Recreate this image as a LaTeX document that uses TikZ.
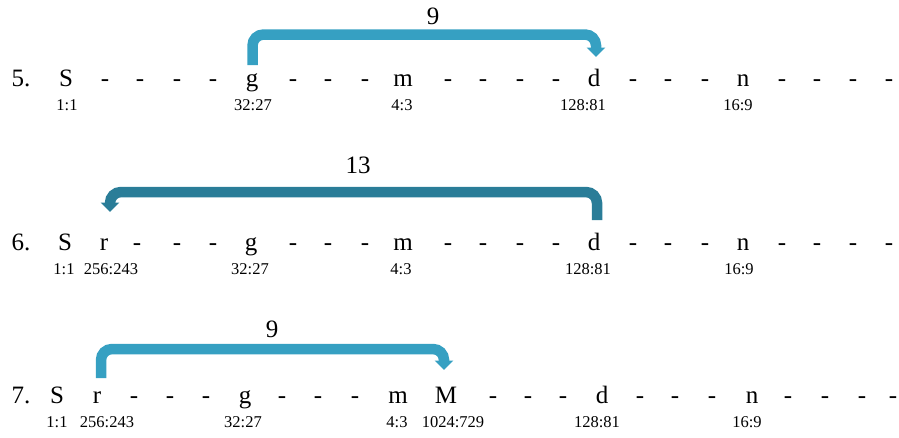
\documentclass[tikz,border=0pt]{standalone}
\usepackage{fontspec}
\setmainfont{Liberation Serif}
\usetikzlibrary{arrows.meta}
\definecolor{arrlight}{HTML}{36A0C2}
\definecolor{arrdark}{HTML}{2A7D98}
\tikzset{
  note/.style={anchor=base, font=\fontsize{25}{30}\selectfont, inner sep=0pt},
  ratio/.style={anchor=base, font=\fontsize{16.5}{20}\selectfont, inner sep=0pt},
  arrbase/.style={line width=10.5pt, rounded corners=11pt, -{Triangle[width=18pt,length=9.5pt]}},
}
\begin{document}
\begin{tikzpicture}[x=1pt,y=-1pt]
\useasboundingbox (0,0) rectangle (899,437);
% ---------- row 5 ----------
\node[note] (num5) at (21,86) {5.};
\node[note] (S5) at (66,86) {S};
\node[note] (g5) at (252,86) {g};
\node[note] (m5) at (403,86) {m};
\node[note] (d5) at (594,86) {d};
\node[note] (n5) at (743,86) {n};
\foreach \x [count=\i] in {105,140,177,213,293,328,365,448,483,520,556,633,668,705,782,817,853,889}
  \node[note] (da\i) at (\x,86) {-};
\node[ratio] (rS5) at (67,110) {1:1};
\node[ratio] (rg5) at (253,110) {32:27};
\node[ratio] (rm5) at (402,110) {4:3};
\node[ratio] (rd5) at (583,110) {128:81};
\node[ratio] (rn5) at (738,110) {16:9};
\node[note] (lab5) at (433,24) {9};
\draw[arrbase, arrlight] ([xshift=0.5pt,yshift=21pt]g5.base) |- ([xshift=2pt,yshift=51.5pt]d5.base) -- ([xshift=2pt,yshift=29pt]d5.base);
% ---------- row 6 ----------
\node[note] (num6) at (21,250) {6.};
\node[note] (S6) at (65,250) {S};
\node[note] (r6) at (104,250) {r};
\node[note] (g6) at (251,250) {g};
\node[note] (m6) at (403,250) {m};
\node[note] (d6) at (594,250) {d};
\node[note] (n6) at (743,250) {n};
\foreach \x [count=\i] in {137,177,213,293,328,365,448,483,520,556,633,668,705,782,817,853,889}
  \node[note] (db\i) at (\x,250) {-};
\node[ratio] (rS6) at (64,274) {1:1};
\node[ratio] (rr6) at (111,274) {256:243};
\node[ratio] (rg6) at (250,274) {32:27};
\node[ratio] (rm6) at (401,274) {4:3};
\node[ratio] (rd6) at (588,274) {128:81};
\node[ratio] (rn6) at (739,274) {16:9};
\node[note] (lab6) at (358,173) {13};
\draw[arrbase, arrdark] ([xshift=3pt,yshift=30pt]d6.base) |- ([xshift=6pt,yshift=58pt]r6.base) -- ([xshift=6pt,yshift=38pt]r6.base);
% ---------- row 7 ----------
\node[note] (num7) at (21,403) {7.};
\node[note] (S7) at (57,403) {S};
\node[note] (r7) at (97,403) {r};
\node[note] (g7) at (245,403) {g};
\node[note] (m7) at (398,403) {m};
\node[note] (M7) at (446,403) {M};
\node[note] (d7) at (602,403) {d};
\node[note] (n7) at (752,403) {n};
\foreach \x [count=\i] in {134,170,206,282,318,355,493,528,563,640,675,712,788,825,862,893}
  \node[note] (dc\i) at (\x,403) {-};
\node[ratio] (rS7) at (57,427) {1:1};
\node[ratio] (rr7) at (107,427) {256:243};
\node[ratio] (rg7) at (243,427) {32:27};
\node[ratio] (rm7) at (397,427) {4:3};
\node[ratio] (rM7) at (453,427) {1024:729};
\node[ratio] (rd7) at (597,427) {128:81};
\node[ratio] (rn7) at (747,427) {16:9};
\node[note] (lab7) at (272,337) {9};
\draw[arrbase, arrlight] ([xshift=4pt,yshift=25pt]r7.base) |- ([xshift=-2pt,yshift=54pt]M7.base) -- ([xshift=-2pt,yshift=33pt]M7.base);
\end{tikzpicture}
\end{document}
